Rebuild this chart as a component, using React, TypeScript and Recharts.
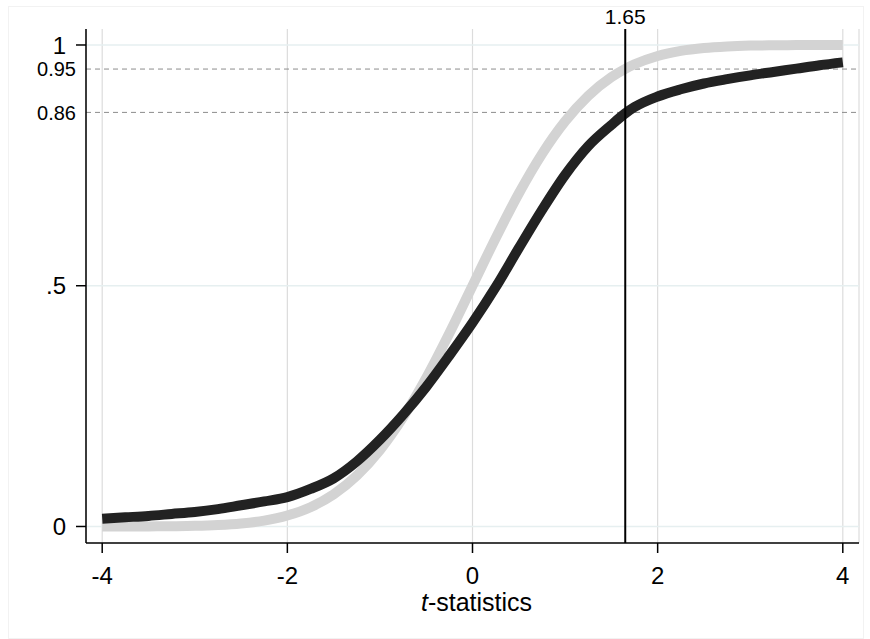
import React from 'react'
import { LineChart, Line, XAxis, YAxis, CartesianGrid, ReferenceLine, Label } from 'recharts'

// t-statistic grid
const tValues = [-4, -3.75, -3.5, -3.25, -3, -2.75, -2.5, -2.25, -2, -1.75, -1.5, -1.25, -1, -0.75, -0.5, -0.25,
    0, 0.25, 0.5, 0.75, 1, 1.25, 1.5, 1.65, 1.75, 2, 2.25, 2.5, 2.75, 3, 3.25, 3.5, 3.75, 4]

// light gray curve (standard normal cdf)
const normalCdf = [0.0, 0.0001, 0.0002, 0.0006, 0.0013, 0.003, 0.0062, 0.0122, 0.0228, 0.0401, 0.0668, 0.1056,
    0.1587, 0.2266, 0.3085, 0.4013, 0.5, 0.5987, 0.6915, 0.7734, 0.8413, 0.8944, 0.9332, 0.9505, 0.9599, 0.9772,
    0.9878, 0.9938, 0.997, 0.9987, 0.9994, 0.9998, 0.9999, 1.0]

// dark curve (empirical cdf)
const empiricalCdf = [0.016, 0.019, 0.022, 0.026, 0.03, 0.036, 0.044, 0.052, 0.061, 0.078, 0.1, 0.135, 0.18,
    0.232, 0.29, 0.355, 0.423, 0.497, 0.578, 0.657, 0.73, 0.79, 0.834, 0.858, 0.871, 0.893, 0.908, 0.92, 0.929,
    0.937, 0.944, 0.951, 0.958, 0.964]

const xTicks = [-4, -2, 0, 2, 4]
const yTicks = [0, 0.5, 0.86, 0.95, 1]
const majorY = [0, 0.5, 1]
const criticalValue = 1.65

const data = tValues.map((t, i) => ({ t, normal: normalCdf[i], empirical: empiricalCdf[i] }))

const fmtY = (v: number) => (v === 0.5 ? '.5' : String(v))

const YTick = (props: any) => {
    const { x, y, payload } = props
    const v = payload.value
    const major = majorY.includes(v)
    return (
        <g>
            {major && <line x1={x + 10} x2={x + 20} y1={y} y2={y} stroke="#000" strokeWidth={1.5} />}
            <text x={major ? x : x + 10} y={y} dy="0.36em" textAnchor="end" fontSize={major ? 24 : 20} fill="#000">
                {fmtY(v)}
            </text>
        </g>
    )
}

const XLabel = (props: any) => {
    const { viewBox } = props
    return (
        <text x={viewBox.x + viewBox.width / 2 + 4} y={viewBox.y + 68} textAnchor="middle" fontSize={25} fill="#000">
            <tspan fontStyle="italic">t</tspan>-statistics
        </text>
    )
}

export default function App() {
    return (
        <div style={{ position: 'absolute', left: 0, top: 0, width: 870, height: 639, background: '#fff' }}>
            <div style={{ position: 'absolute', left: 8, top: 6, width: 854, height: 631, border: '1px solid #f2f2f2' }} />
            <LineChart
                width={870}
                height={639}
                data={data}
                margin={{ top: 29, right: 11, bottom: 36, left: 0 }}
                style={{ fontFamily: '"Liberation Sans", Arial, sans-serif' }}
            >
                <CartesianGrid horizontal={false} stroke="#dcdcdc" strokeWidth={1.2} />
                {majorY.map(v => (
                    <ReferenceLine key={v} y={v} stroke="#e6eff0" strokeWidth={1.5} />
                ))}
                <ReferenceLine y={0.95} stroke="#8c8c8c" strokeDasharray="5 4" />
                <ReferenceLine y={0.86} stroke="#8c8c8c" strokeDasharray="5 4" />
                <XAxis
                    dataKey="t"
                    type="number"
                    domain={[-4.175, 4.175]}
                    allowDataOverflow
                    ticks={xTicks}
                    height={60}
                    tickSize={10}
                    tickMargin={14}
                    tick={{ fontSize: 24, fill: '#000' }}
                    stroke="#000"
                    strokeWidth={1.5}
                >
                    <Label content={<XLabel />} />
                </XAxis>
                <YAxis
                    type="number"
                    domain={[-0.0343, 1.0332]}
                    allowDataOverflow
                    ticks={yTicks}
                    width={86}
                    tickSize={10}
                    tickMargin={10}
                    tickLine={false}
                    tick={<YTick />}
                    stroke="#000"
                    strokeWidth={1.5}
                />
                <Line
                    type="monotone"
                    dataKey="normal"
                    stroke="#d3d3d3"
                    strokeWidth={10}
                    dot={false}
                    isAnimationActive={false}
                />
                <Line
                    type="monotone"
                    dataKey="empirical"
                    stroke="#222"
                    strokeWidth={10}
                    dot={false}
                    isAnimationActive={false}
                />
                <ReferenceLine
                    x={criticalValue}
                    stroke="#000"
                    strokeWidth={2}
                    label={{ value: '1.65', position: 'top', fontSize: 21, fill: '#000' }}
                />
            </LineChart>
        </div>
    )
}
